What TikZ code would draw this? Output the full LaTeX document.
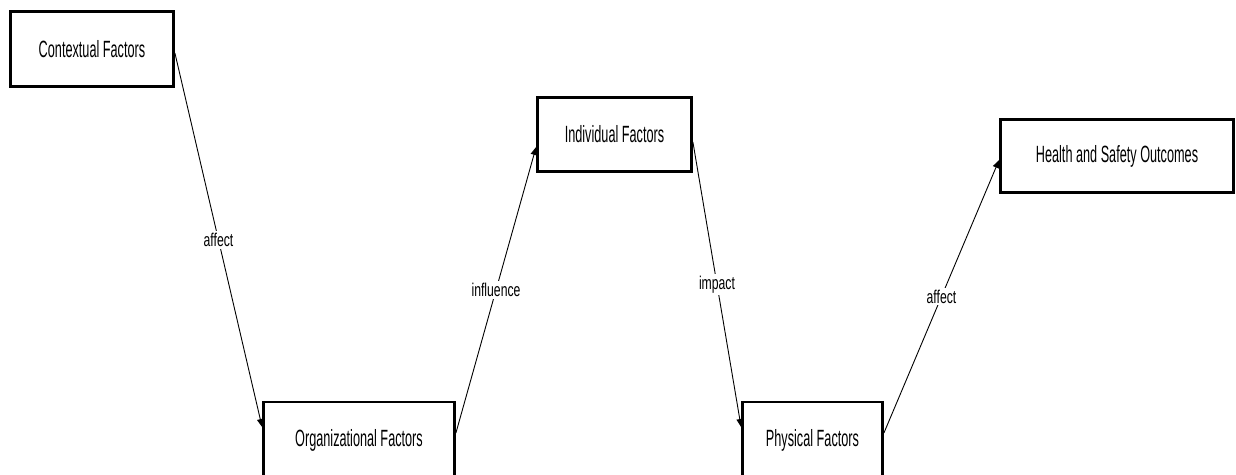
\documentclass[tikz,border=0pt]{standalone}
\usepackage{fontspec}
\setmainfont{Liberation Sans}
\newfontfamily\boxfont{Liberation Sans}[FakeStretch=0.54]
\newfontfamily\lblfont{Liberation Sans}[FakeStretch=0.66]
\usetikzlibrary{arrows.meta}
\begin{document}
\begin{tikzpicture}[x=1pt,y=-1pt,
  box/.style={draw, line width=2.8pt, fill=white, inner sep=0pt, font=\boxfont\fontsize{23.5}{26}\selectfont},
  link/.style={line width=0.9pt, -{Triangle[length=8pt,width=6.5pt]}},
  lbl/.style={fill=white, inner sep=2pt, font=\lblfont\fontsize{18.5}{21}\selectfont}]
\useasboundingbox (0,0) rectangle (1236,474);
\node[box, minimum width=163pt, minimum height=75pt] (ctx) at (92,49) {Contextual Factors};
\node[box, minimum width=191pt, minimum height=76pt] (org) at (359,440) {Organizational Factors};
\node[box, minimum width=154pt, minimum height=74pt] (ind) at (614.5,134.5) {Individual Factors};
\node[box, minimum width=140pt, minimum height=76pt] (phy) at (812.5,440) {Physical Factors};
\node[box, minimum width=233pt, minimum height=73pt] (hso) at (1117,156) {Health and Safety Outcomes};
\draw[link] ([yshift=-4pt]ctx.east) -- node[lbl]{affect} ([yshift=13pt]org.west);
\draw[link] ([yshift=7pt]org.east) -- node[lbl]{influence} ([yshift=-12.5pt]ind.west);
\draw[link] ([yshift=-7.5pt]ind.east) -- node[lbl]{impact} ([yshift=13pt]phy.west);
\draw[link] ([yshift=7pt]phy.east) -- node[lbl]{affect} ([yshift=-4pt]hso.west);
\end{tikzpicture}
\end{document}
